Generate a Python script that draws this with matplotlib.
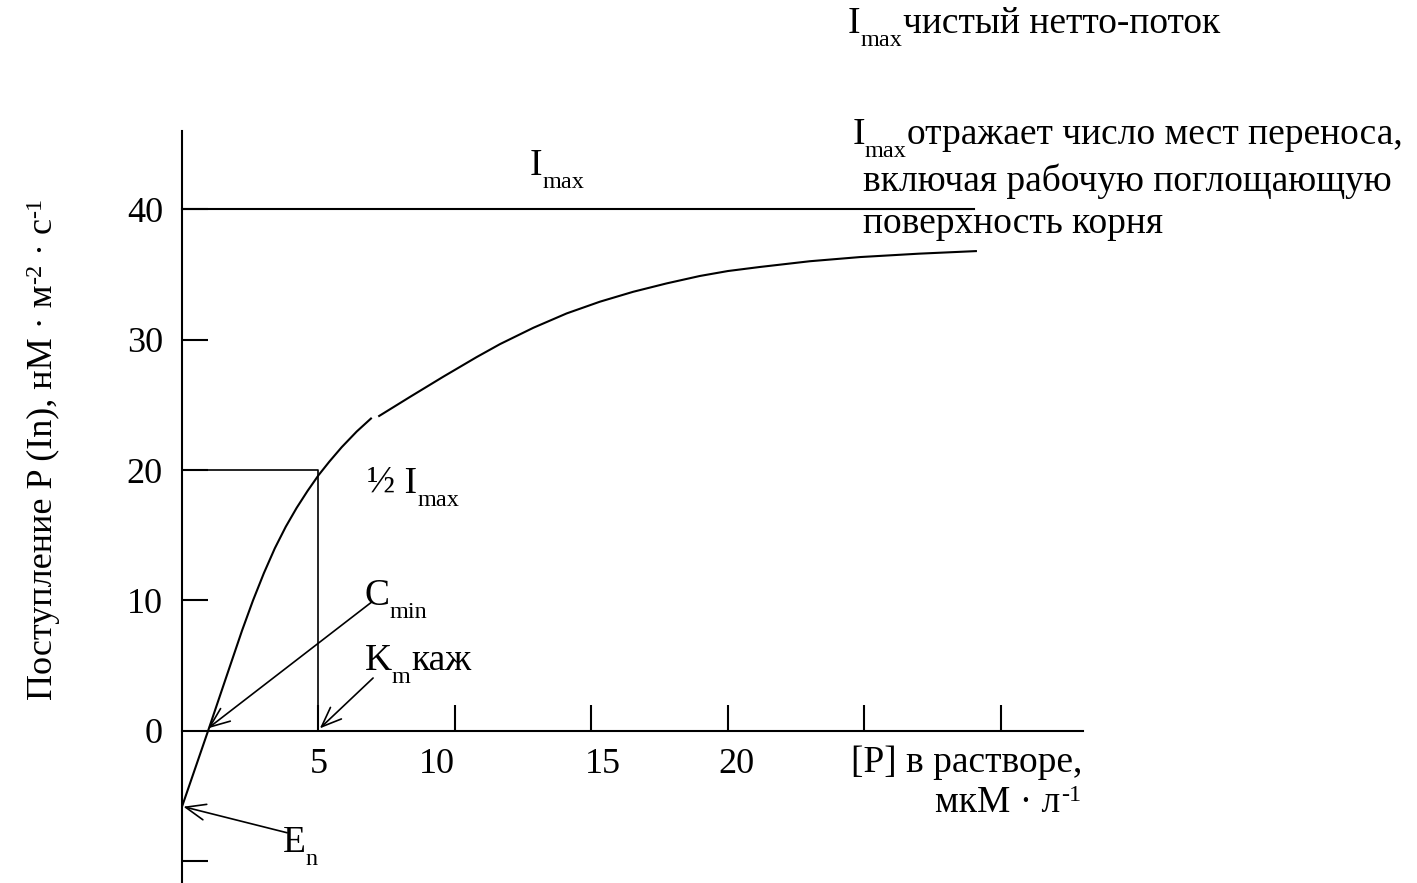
import matplotlib

matplotlib.use("Agg")
import matplotlib.pyplot as plt
from matplotlib.transforms import offset_copy

plt.rcParams.update(
    {
        "font.family": ["Liberation Serif", "DejaVu Serif"],
        "font.size": 26,
    }
)

# uptake curve, drawn in two pieces (small gap in the original drawing)
CURVE_LOW_X = [0.0, 0.97, 1.6, 2.2, 2.6, 3.0, 3.4, 3.8, 4.2, 4.6, 5.0, 5.4, 5.85, 6.4, 6.95]
CURVE_LOW_Y = [-5.8, 0.1, 4.0, 7.7, 10.0, 12.1, 14.0, 15.65, 17.1, 18.4, 19.6, 20.65, 21.75, 22.95, 24.0]
CURVE_HIGH_X = [7.19, 8.35, 9.57, 10.79, 11.65, 12.87, 14.09, 15.31, 16.53, 17.75, 18.97, 20.0, 21.17, 23.0, 24.84, 27.0, 29.12]
CURVE_HIGH_Y = [24.1, 25.6, 27.15, 28.65, 29.65, 30.9, 32.0, 32.9, 33.66, 34.3, 34.87, 35.25, 35.56, 36.0, 36.32, 36.58, 36.78]

I_MAX = 40
I_MAX_END = 29.0
HALF_I_MAX = 20
KM = 5

X_TICKS = [5, 10, 15, 20, 25, 30]
X_TICK_LABELS = ["5", "10", "15", "20"]
X_TICK_LABEL_POS = [5.0, 9.35, 15.4, 20.3]
Y_TICKS = [-10, 10, 20, 30, 40]
Y_TICK_LABELS = ["0", "10", "20", "30", "40"]
Y_TICK_LABEL_VALUES = [0, 10, 20, 30, 40]

# arrows: (tail, head)
ARROW_CMIN = ((6.96, 9.9), (0.95, 0.2))
ARROW_KM = ((7.0, 4.06), (5.05, 0.2))
ARROW_EN = ((3.85, -7.8), (0.05, -5.8))

# figure is mapped 1:1 onto data coordinates
X_LEFT, X_RIGHT = -6.667, 45.24
Y_BOTTOM, Y_TOP = -11.65, 56.02

MAIN = 27
SUB = 17.5
SUB_DROP = -13

fig = plt.figure(figsize=(14.17, 8.83), dpi=100)
ax = fig.add_axes([0, 0, 1, 1])
ax.set_xlim(X_LEFT, X_RIGHT)
ax.set_ylim(Y_BOTTOM, Y_TOP)
ax.patch.set_visible(False)
renderer = fig.canvas.get_renderer()


def rich_text(x, y, parts, rotation=0):
    """Draw a run of text pieces, each (text, size, baseline shift in px)."""
    advance = 0.0
    for text, size, shift in parts:
        if rotation == 90:
            dx, dy = -shift, advance
        else:
            dx, dy = advance, shift
        tr = offset_copy(ax.transData, fig=fig, x=dx, y=dy, units="dots")
        t = ax.text(x, y, text, fontsize=size, transform=tr, rotation=rotation,
                    rotation_mode="anchor", ha="left", va="baseline")
        bb = t.get_window_extent(renderer)
        advance += bb.height if rotation == 90 else bb.width


for side in ("top", "right"):
    ax.spines[side].set_visible(False)
ax.spines["left"].set_position(("data", 0))
ax.spines["bottom"].set_position(("data", 0))
ax.spines["left"].set_bounds(Y_BOTTOM, 46)
ax.spines["bottom"].set_bounds(0, 33)
for side in ("left", "bottom"):
    ax.spines[side].set_linewidth(1.5)

ax.set_xticks(X_TICKS)
ax.set_xticklabels([])
ax.set_yticks(Y_TICKS)
ax.set_yticklabels([])
ax.tick_params(axis="both", direction="in", length=19, width=1.5)

lw = 1.5
ax.plot(CURVE_LOW_X, CURVE_LOW_Y, color="black", lw=lw, solid_capstyle="butt")
ax.plot(CURVE_HIGH_X, CURVE_HIGH_Y, color="black", lw=lw, solid_capstyle="butt")
ax.plot([0, I_MAX_END], [I_MAX, I_MAX], color="black", lw=lw)
ax.plot([0, KM, KM], [HALF_I_MAX, HALF_I_MAX, 0], color="black", lw=1.2)

for (tail, head) in (ARROW_CMIN, ARROW_KM, ARROW_EN):
    ax.annotate(
        "",
        xy=head,
        xytext=tail,
        arrowprops=dict(arrowstyle="->,head_length=0.55,head_width=0.22", color="black",
                        lw=1.2, shrinkA=0, shrinkB=0),
    )

for val, lab in zip(Y_TICK_LABEL_VALUES, Y_TICK_LABELS):
    ax.text(-0.7, val, lab, ha="right", va="center_baseline", fontsize=26)
for pos, lab in zip(X_TICK_LABEL_POS, X_TICK_LABELS):
    ax.text(pos, -3.25, lab, ha="center", va="baseline", fontsize=26)

ax.text(24.5, -3.15, "[P] в растворе,", ha="left", va="baseline", fontsize=MAIN)
rich_text(27.6, -6.2, [("мкМ · л", MAIN, 0), ("-1", SUB, 11)])

rich_text(-4.77, 2.4, [("Поступление P (In), нМ · м", 26, 0), ("-2", SUB, 11),
                       (" · с", 26, 0), ("-1", SUB, 11)], rotation=90)

rich_text(12.75, 42.6, [("I", MAIN, 0), ("max", SUB, SUB_DROP)])
rich_text(6.78, 18.2, [("½ I", MAIN, 0), ("max", SUB, SUB_DROP)])
rich_text(6.7, 9.66, [("C", MAIN, 0), ("min", SUB, SUB_DROP)])
rich_text(6.7, 4.67, [("K", MAIN, 0), ("m", SUB, SUB_DROP), ("каж", MAIN, 0)])
rich_text(3.7, -9.27, [("E", MAIN, 0), ("n", SUB, SUB_DROP)])

rich_text(24.4, 53.5, [("I", MAIN, 0), ("max", SUB, SUB_DROP), ("чистый нетто-поток", MAIN, 0)])
rich_text(24.55, 44.95, [("I", MAIN, 0), ("max", SUB, SUB_DROP), ("отражает число мест переноса,", MAIN, 0)])
ax.text(24.95, 41.4, "включая рабочую поглощающую", ha="left", va="baseline", fontsize=MAIN)
ax.text(24.95, 38.2, "поверхность корня", ha="left", va="baseline", fontsize=MAIN)

fig.savefig("out.png", dpi=100)
